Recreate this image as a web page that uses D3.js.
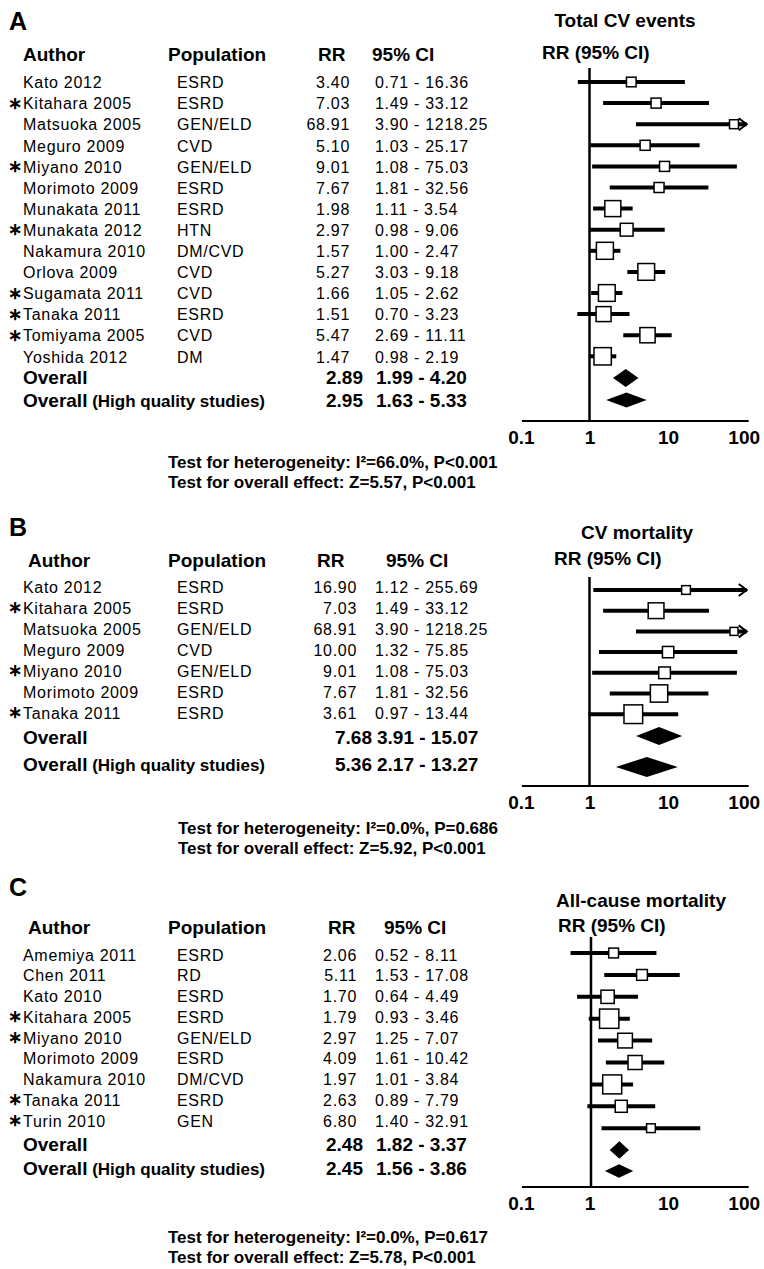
<!DOCTYPE html>
<html>
<head>
<meta charset="utf-8">
<script src="https://cdn.jsdelivr.net/npm/d3@7"></script>
<style>
  body { margin: 0; background: #fff; }
  text { font-family: "Liberation Sans", Arial, sans-serif; fill: #000; }
</style>
</head>
<body>
<div id="chart"></div>
<script>
// ---- data ----
var ticks = [0.1, 1, 10, 100];
var tickLabels = ["0.1", "1", "10", "100"];

// A: Total CV events
var authorsA = ["Kato 2012", "Kitahara 2005", "Matsuoka 2005", "Meguro 2009", "Miyano 2010", "Morimoto 2009", "Munakata 2011",
                "Munakata 2012", "Nakamura 2010", "Orlova 2009", "Sugamata 2011", "Tanaka 2011", "Tomiyama 2005", "Yoshida 2012"];
var popA = ["ESRD", "ESRD", "GEN/ELD", "CVD", "GEN/ELD", "ESRD", "ESRD", "HTN", "DM/CVD", "CVD", "CVD", "ESRD", "CVD", "DM"];
var rrA = [3.40, 7.03, 68.91, 5.10, 9.01, 7.67, 1.98, 2.97, 1.57, 5.27, 1.66, 1.51, 5.47, 1.47];
var loA = [0.71, 1.49, 3.90, 1.03, 1.08, 1.81, 1.11, 0.98, 1.00, 3.03, 1.05, 0.70, 2.69, 0.98];
var hiA = [16.36, 33.12, 1218.25, 25.17, 75.03, 32.56, 3.54, 9.06, 2.47, 9.18, 2.62, 3.23, 11.11, 2.19];
var hqA = [0, 1, 0, 0, 1, 0, 0, 1, 0, 0, 1, 1, 1, 0];
var weightA = [23, 25, 20, 25, 25, 25, 64, 41, 72, 70, 70, 56, 58, 75];
var overallA = [2.89, 1.99, 4.20];
var overallHqA = [2.95, 1.63, 5.33];
var testsA = ["Test for heterogeneity: I²=66.0%, P<0.001", "Test for overall effect: Z=5.57, P<0.001"];

// B: CV mortality
var authorsB = ["Kato 2012", "Kitahara 2005", "Matsuoka 2005", "Meguro 2009", "Miyano 2010", "Morimoto 2009", "Tanaka 2011"];
var popB = ["ESRD", "ESRD", "GEN/ELD", "CVD", "GEN/ELD", "ESRD", "ESRD"];
var rrB = [16.90, 7.03, 68.91, 10.00, 9.01, 7.67, 3.61];
var loB = [1.12, 1.49, 3.90, 1.32, 1.08, 1.81, 0.97];
var hiB = [255.69, 33.12, 1218.25, 75.85, 75.03, 32.56, 13.44];
var hqB = [0, 1, 0, 0, 1, 0, 1];
var weightB = [19, 62, 16, 32, 34, 75, 87];
var overallB = [7.68, 3.91, 15.07];
var overallHqB = [5.36, 2.17, 13.27];
var testsB = ["Test for heterogeneity: I²=0.0%, P=0.686", "Test for overall effect: Z=5.92, P<0.001"];

// C: All-cause mortality
var authorsC = ["Amemiya 2011", "Chen 2011", "Kato 2010", "Kitahara 2005", "Miyano 2010", "Morimoto 2009", "Nakamura 2010", "Tanaka 2011", "Turin 2010"];
var popC = ["ESRD", "RD", "ESRD", "ESRD", "GEN/ELD", "ESRD", "DM/CVD", "ESRD", "GEN"];
var rrC = [2.06, 5.11, 1.70, 1.79, 2.97, 4.09, 1.97, 2.63, 6.80];
var loC = [0.52, 1.53, 0.64, 0.93, 1.25, 1.61, 1.01, 0.89, 1.40];
var hiC = [8.11, 17.08, 4.49, 3.46, 7.07, 10.42, 3.84, 7.79, 32.91];
var hqC = [0, 0, 0, 1, 1, 0, 0, 1, 1];
var weightC = [24, 29, 44, 93, 54, 49, 90, 36, 19];
var overallC = [2.48, 1.82, 3.37];
var overallHqC = [2.45, 1.56, 3.86];
var testsC = ["Test for heterogeneity: I²=0.0%, P=0.617", "Test for overall effect: Z=5.78, P<0.001"];

// ---- layout per panel ----
var panels = [
  { letter: "A", title: "Total CV events", authors: authorsA, pop: popA, rr: rrA, lo: loA, hi: hiA, hq: hqA, wt: weightA,
    ov: overallA, ovHq: overallHqA, tests: testsA,
    letterY: 21, titleX: 625, titleY: 20, headY: 54, rrHeadX: 318, ciHeadX: 372, authHeadX: 23, rrRight: 350,
    ovRight: 363, ovCiX: 376, textY0: 82.5, textStep: 21.1, ovY: 377.5, hqY: 400,
    plotY0: 82, plotStep: 21.1, dY: [378, 400], dH: [9, 7.5],
    one: 589.5, dec: 78.6, vTop: 68, axisY: 421, testX: 168, testY: [462, 482] },
  { letter: "B", title: "CV mortality", authors: authorsB, pop: popB, rr: rrB, lo: loB, hi: hiB, hq: hqB, wt: weightB,
    ov: overallB, ovHq: overallHqB, tests: testsB,
    letterY: 527, titleX: 637, titleY: 532, headY: 560, rrHeadX: 317, ciHeadX: 386, authHeadX: 28, rrRight: 357,
    ovRight: 372, ovCiX: 377, textY0: 587, textStep: 21, ovY: 737, hqY: 764,
    plotY0: 590, plotStep: 20.7, dY: [736, 767], dH: [9, 10],
    one: 589.5, dec: 78.6, vTop: 577, axisY: 786, testX: 178, testY: [828, 848] },
  { letter: "C", title: "All-cause mortality", authors: authorsC, pop: popC, rr: rrC, lo: loC, hi: hiC, hq: hqC, wt: weightC,
    ov: overallC, ovHq: overallHqC, tests: testsC,
    letterY: 887, titleX: 641, titleY: 900, headY: 927, rrHeadX: 328, ciHeadX: 384, authHeadX: 28, rrRight: 357,
    ovRight: 363, ovCiX: 376, textY0: 955, textStep: 20.75, ovY: 1144, hqY: 1168,
    plotY0: 953, plotStep: 21.9, dY: [1150, 1171], dH: [8.7, 6.7],
    one: 591, dec: 72, vTop: 937, axisY: 1187, testX: 168, testY: [1237, 1257] }
];

var W = 764, H = 1269;
var svg = d3.select("#chart").append("svg").attr("width", W).attr("height", H);

// shared scale for the axis labels
var axisScale = d3.scaleLog().domain([0.1, 100]).range([589.5 - 78.6, 589.5 + 2 * 78.6]);
// box side from study weight
var sizeScale = d3.scaleSqrt().domain([0, 100]).range([0, 20]);

function fmt(v) { return v.toFixed(2); }

// text placed by its vertical centre (cap-height based)
function label(g, x, cy, str, size, bold, anchor) {
  return g.append("text")
    .attr("x", x)
    .attr("y", cy + size * 0.358)
    .attr("font-size", size + "px")
    .attr("font-weight", bold ? 700 : 400)
    .attr("text-anchor", anchor || "start")
    .text(str);
}

panels.forEach(function(p) {
  var g = svg.append("g");
  var x = d3.scaleLog().domain([0.1, 100]).range([p.one - p.dec, p.one + 2 * p.dec]);

  // letters and headings
  label(g, 9, p.letterY, p.letter, 25, true);
  label(g, p.titleX, p.titleY, p.title, 19, true, "middle");
  label(g, p.authHeadX, p.headY, "Author", 19, true);
  label(g, 168, p.headY, "Population", 19, true);
  label(g, p.rrHeadX, p.headY, "RR", 19, true);
  label(g, p.ciHeadX, p.headY, "95% CI", 19, true);
  label(g, p.titleX - 83, p.headY - 2, "RR (95% CI)", 19, true);

  // study rows
  p.authors.forEach(function(a, i) {
    var cy = p.textY0 + i * p.textStep;
    if (p.hq[i]) {
      g.append("text").attr("x", 8).attr("y", cy + 5).attr("font-size", "17px")
        .attr("font-weight", 700).text("∗");
    }
    label(g, 23, cy, a, 16, false).attr("letter-spacing", "0.7px");
    label(g, 177, cy, p.pop[i], 16, false).attr("letter-spacing", "0.7px");
    label(g, p.rrRight, cy, fmt(p.rr[i]), 16, false, "end").attr("letter-spacing", "0.7px");
    label(g, 375, cy, fmt(p.lo[i]) + " - " + fmt(p.hi[i]), 16, false).attr("letter-spacing", "0.7px");
  });

  // overall rows
  label(g, 23, p.ovY, "Overall", 19, true);
  label(g, p.ovRight, p.ovY, fmt(p.ov[0]), 19, true, "end");
  label(g, p.ovCiX, p.ovY, fmt(p.ov[1]) + " - " + fmt(p.ov[2]), 19, true);
  var hqLab = label(g, 23, p.hqY, "Overall", 19, true);
  hqLab.append("tspan").attr("font-size", "17px").text(" (High quality studies)");
  label(g, p.ovRight, p.hqY, fmt(p.ovHq[0]), 19, true, "end");
  label(g, p.ovCiX, p.hqY, fmt(p.ovHq[1]) + " - " + fmt(p.ovHq[2]), 19, true);

  // vertical line at RR = 1
  g.append("line")
    .attr("x1", x(1)).attr("x2", x(1))
    .attr("y1", p.vTop).attr("y2", p.axisY)
    .attr("stroke", "#000").attr("stroke-width", 2.5);

  // axis
  var ax = g.append("g").attr("transform", "translate(0," + p.axisY + ")")
    .call(d3.axisBottom(axisScale).tickValues(ticks)
      .tickFormat(function(d, i) { return tickLabels[i]; })
      .tickSize(0).tickPadding(10));
  ax.select(".domain").remove();
  ax.selectAll("text")
    .attr("font-size", "19px").attr("font-weight", 700)
    .attr("font-family", "Liberation Sans, Arial, sans-serif")
    .attr("dx", function(d, i) { return i === 0 ? 10 : (i === 3 ? -3 : 0); });
  g.append("line")
    .attr("x1", axisScale(0.1) + 11).attr("x2", axisScale(100) + 2)
    .attr("y1", p.axisY).attr("y2", p.axisY)
    .attr("stroke", "#000").attr("stroke-width", 2);

  // CI lines
  var rows = p.rr.map(function(v, i) {
    return { rr: v, lo: p.lo[i], hi: p.hi[i], w: p.wt[i], y: p.plotY0 + i * p.plotStep };
  });
  g.selectAll(".ci").data(rows).enter().append("line")
    .attr("x1", function(d) { return x(d.lo); })
    .attr("x2", function(d) { return x(Math.min(d.hi, 100)); })
    .attr("y1", function(d) { return d.y; })
    .attr("y2", function(d) { return d.y; })
    .attr("stroke", "#000").attr("stroke-width", 4);

  // arrows for CIs running past 100
  g.selectAll(".arrow").data(rows.filter(function(d) { return d.hi > 100; })).enter().append("path")
    .attr("d", function(d) {
      var xe = x(100);
      return "M" + (xe - 8) + "," + (d.y - 6) + "L" + xe + "," + d.y + "L" + (xe - 8) + "," + (d.y + 6);
    })
    .attr("fill", "none").attr("stroke", "#000").attr("stroke-width", 2);

  // boxes
  g.selectAll(".box").data(rows).enter().append("rect")
    .attr("x", function(d) { return x(d.rr) - sizeScale(d.w) / 2; })
    .attr("y", function(d) { return d.y - sizeScale(d.w) / 2; })
    .attr("width", function(d) { return sizeScale(d.w); })
    .attr("height", function(d) { return sizeScale(d.w); })
    .attr("fill", "#fff").attr("stroke", "#000").attr("stroke-width", 1.5);

  // pooled diamonds
  [p.ov, p.ovHq].forEach(function(o, k) {
    var cy = p.dY[k], h = p.dH[k];
    g.append("path")
      .attr("d", "M" + x(o[1]) + "," + cy + "L" + x(o[0]) + "," + (cy - h) +
                 "L" + x(o[2]) + "," + cy + "L" + x(o[0]) + "," + (cy + h) + "Z")
      .attr("fill", "#000");
  });

  // tests
  p.tests.forEach(function(t, k) {
    label(g, p.testX, p.testY[k], t, 17, true);
  });
});
</script>
</body>
</html>
